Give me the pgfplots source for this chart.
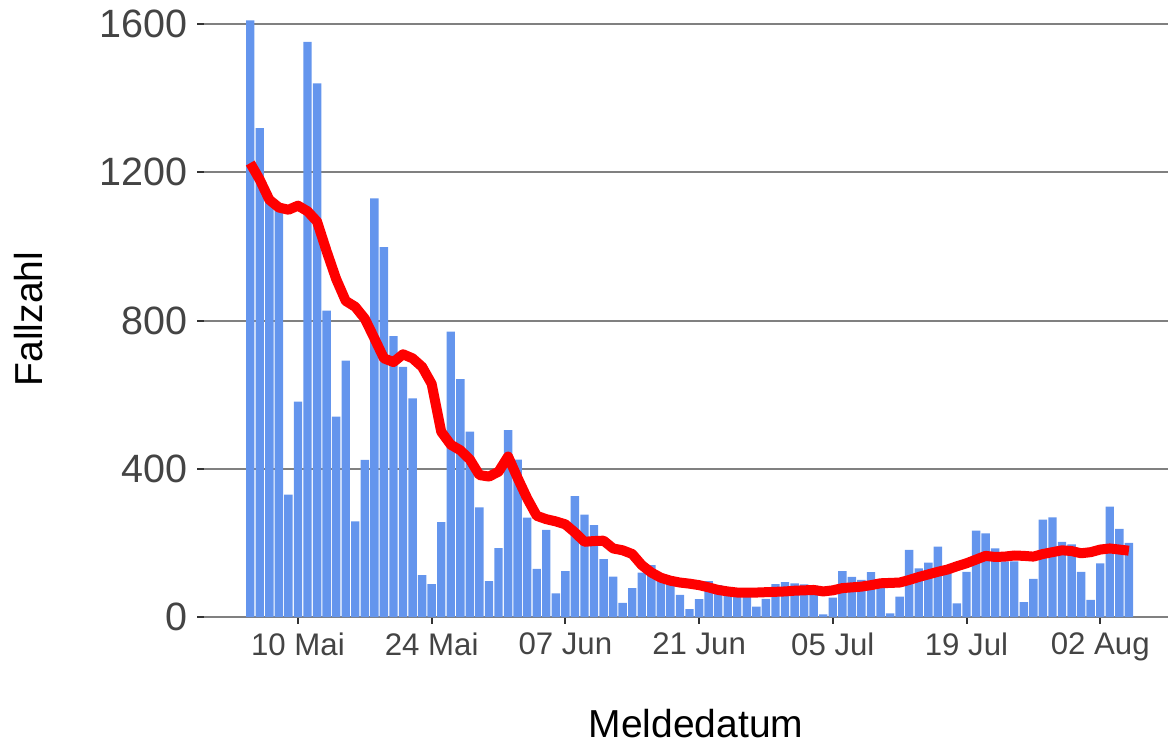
\documentclass[border=0pt]{standalone}
\usepackage{fontspec}
\setmainfont{Liberation Sans}
\usepackage{pgfplots}
\pgfplotsset{compat=1.18}

\definecolor{barblue}{HTML}{6495ED}
\definecolor{gridgray}{HTML}{808080}
\definecolor{ticktext}{HTML}{444444}

\begin{document}
\begin{tikzpicture}
\begin{axis}[
    scale only axis,
    width=482bp, height=308.5bp,
    xmin=-9.84, xmax=91.1,
    ymin=0, ymax=1665,
    axis x line=bottom, axis y line=left,
    axis line style={-},
    x axis line style={gridgray, line width=1bp},
    y axis line style={draw=none},
    ymajorgrids=true,
    grid style={gridgray, line width=1bp},
    ytick={0,400,800,1200,1600},
    xtick={0,14,28,42,56,70,84},
    xticklabels={10 Mai,24 Mai,07 Jun,21 Jun,05 Jul,19 Jul,02 Aug},
    tick align=outside,
    major tick length=3.3bp,
    major tick style={black!80, line width=1bp},
    /pgf/number format/assume math mode=true,
    /pgf/number format/1000 sep={},
    yticklabel style={font=\fontsize{19.75bp}{22bp}\selectfont, text=ticktext, anchor=east, inner sep=0pt, xshift=-4.7bp},
    xticklabel style={font=\fontsize{15.6bp}{18bp}\selectfont, text=ticktext, anchor=north, inner sep=0pt, yshift=-4.6bp},
    clip=false,
]
% daily case counts, day 0 = 10 Mai
\addplot[ybar, bar width=0.88, fill=barblue, draw=none] coordinates {
(-5,1610)(-4,1319)(-3,1120)(-2,1100)(-1,330)(0,581)(1,1552)(2,1440)(3,827)(4,541)
(5,692)(6,258)(7,424)(8,1130)(9,998)(10,758)(11,675)(12,590)(13,113)(14,89)
(15,256)(16,770)(17,642)(18,500)(19,296)(20,97)(21,186)(22,504)(23,425)(24,268)
(25,130)(26,235)(27,64)(28,124)(29,326)(30,276)(31,248)(32,156)(33,109)(34,38)
(35,78)(36,120)(37,140)(38,110)(39,91)(40,60)(41,21)(42,48)(43,97)(44,86)
(45,80)(46,75)(47,75)(48,28)(49,49)(50,89)(51,94)(52,91)(53,88)(54,85)
(55,7)(56,52)(57,124)(58,108)(59,100)(60,121)(61,85)(62,10)(63,55)(64,181)
(65,131)(66,147)(67,190)(68,135)(69,37)(70,122)(71,233)(72,226)(73,185)(74,150)
(75,150)(76,40)(77,103)(78,263)(79,269)(80,203)(81,196)(82,122)(83,46)(84,145)
(85,298)(86,238)(87,200)
};
% smoothed trend
\addplot[sharp plot, red, line width=5bp, line join=round] coordinates {
(-5,1225)(-4,1180)(-3,1126)(-2,1105)(-1,1099)(0,1110)(1,1095)(2,1067)(3,987)(4,912)
(5,853)(6,837)(7,805)(8,752)(9,698)(10,688)(11,709)(12,698)(13,675)(14,629)
(15,500)(16,465)(17,450)(18,425)(19,383)(20,379)(21,392)(22,433)(23,375)(24,320)
(25,273)(26,264)(27,258)(28,250)(29,228)(30,203)(31,205)(32,206)(33,185)(34,180)
(35,170)(36,140)(37,120)(38,106)(39,98)(40,93)(41,90)(42,86)(43,80)(44,73)
(45,69)(46,66)(47,66)(48,66)(49,67)(50,68)(51,69)(52,71)(53,72)(54,73)
(55,69)(56,72)(57,78)(58,80)(59,82)(60,86)(61,91)(62,92)(63,93)(64,100)
(65,108)(66,115)(67,122)(68,128)(69,137)(70,145)(71,155)(72,165)(73,162)(74,163)
(75,166)(76,165)(77,163)(78,170)(79,175)(80,180)(81,178)(82,172)(83,175)(84,182)
(85,185)(86,182)(87,179)
};
\end{axis}
\node[anchor=base, font=\fontsize{19.5bp}{22bp}\selectfont] at ([xshift=246bp, yshift=-60.2bp]current axis.south west) {Meldedatum};
\node[anchor=base, rotate=90, font=\fontsize{19.5bp}{22bp}\selectfont] at ([xshift=-80.65bp, yshift=149bp]current axis.south west) {Fallzahl};
\pgfresetboundingbox
\path ([xshift=-102bp, yshift=-63.5bp]current axis.south west) rectangle (current axis.north east);
\end{tikzpicture}
\end{document}
